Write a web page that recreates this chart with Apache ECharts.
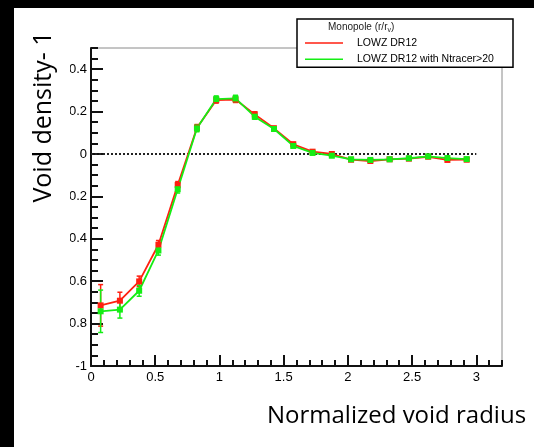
<!DOCTYPE html>
<html>
<head>
<meta charset="utf-8">
<script src="https://cdn.jsdelivr.net/npm/echarts@6/dist/echarts.min.js"></script>
<style>
  html, body { margin: 0; padding: 0; background: #000; }
  #chart { width: 534px; height: 447px; }
</style>
</head>
<body>
<div id="chart"></div>
<script>
// Bin centres of the normalized void radius r/r_v
const radius = [0.075, 0.225, 0.375, 0.525, 0.675, 0.825, 0.975, 1.125, 1.275, 1.425,
                1.575, 1.725, 1.875, 2.025, 2.175, 2.325, 2.475, 2.625, 2.775, 2.925];

// Monopole density contrast, LOWZ DR12 (all voids)
const lowz = [-0.714, -0.692, -0.601, -0.428, -0.146, 0.124, 0.254, 0.257, 0.187, 0.121,
              0.046, 0.011, 0.000, -0.027, -0.033, -0.025, -0.022, -0.013, -0.028, -0.027];
const lowzErr = [0.098, 0.040, 0.025, 0.020, 0.016, 0.015, 0.014, 0.014, 0.012, 0.010,
                 0.009, 0.008, 0.008, 0.007, 0.007, 0.007, 0.007, 0.007, 0.007, 0.007];

// Monopole density contrast, LOWZ DR12 voids with Ntracer>20
const lowzN20 = [-0.742, -0.734, -0.645, -0.455, -0.166, 0.121, 0.259, 0.262, 0.176, 0.118,
                 0.038, 0.005, -0.008, -0.025, -0.028, -0.025, -0.020, -0.011, -0.019, -0.024];
const lowzN20Err = [0.100, 0.040, 0.026, 0.022, 0.018, 0.016, 0.015, 0.015, 0.012, 0.010,
                    0.009, 0.008, 0.008, 0.007, 0.007, 0.007, 0.007, 0.007, 0.007, 0.007];

// Axis tick values
const xTicks = [0, 0.5, 1, 1.5, 2, 2.5, 3];
const yTicks = [-1, -0.8, -0.6, -0.4, -0.2, 0, 0.2, 0.4];

// Dotted reference line at zero density contrast
const zeroLine = [[0, 0], [3, 0]];

const RED = '#ff1f10';
const GREEN = '#14ee14';
const AXIS = '#111';

function errorBars(name, ys, errs, color) {
  return {
    type: 'custom',
    name: name,
    silent: true,
    data: radius.map((x, i) => [x, ys[i] - errs[i], ys[i] + errs[i]]),
    renderItem(params, api) {
      const lo = api.coord([api.value(0), api.value(1)]);
      const hi = api.coord([api.value(0), api.value(2)]);
      const cap = 2.5;
      const style = { stroke: color, lineWidth: 1.5 };
      return {
        type: 'group',
        children: [
          { type: 'line', shape: { x1: lo[0], y1: lo[1], x2: hi[0], y2: hi[1] }, style },
          { type: 'line', shape: { x1: lo[0] - cap, y1: lo[1], x2: lo[0] + cap, y2: lo[1] }, style },
          { type: 'line', shape: { x1: hi[0] - cap, y1: hi[1], x2: hi[0] + cap, y2: hi[1] }, style }
        ]
      };
    }
  };
}

function profile(name, ys, color) {
  return {
    type: 'line',
    name: name,
    data: radius.map((x, i) => [x, ys[i]]),
    color: color,
    symbol: 'rect',
    symbolSize: 6,
    itemStyle: { color: color, borderWidth: 0 },
    lineStyle: { color: color, width: 1.8 },
    emphasis: { disabled: true }
  };
}

const tickFont = { fontFamily: 'Liberation Sans, Arial, sans-serif', fontSize: 13, color: '#000' };
const fmt = v => String(Math.round(v * 100) / 100);

const chart = echarts.init(document.getElementById('chart'), null, { renderer: 'canvas' });
chart.setOption({
  animation: false,
  backgroundColor: '#000',
  grid: {
    left: 91, right: 32, top: 48, bottom: 81,
    show: true, borderColor: '#8a8a8a', borderWidth: 1, backgroundColor: 'transparent'
  },
  xAxis: [
    {
      type: 'value', min: 0, max: 3.2, position: 'bottom',
      axisLine: { show: true, onZero: false, lineStyle: { color: AXIS, width: 2 } },
      axisTick: { show: true, inside: true, length: 11, customValues: xTicks, lineStyle: { color: AXIS, width: 2 } },
      axisLabel: Object.assign({ customValues: xTicks, formatter: fmt, margin: 5 }, tickFont),
      splitLine: { show: false }
    },
    {
      type: 'value', min: 0, max: 3.2, interval: 0.1, position: 'bottom',
      axisLine: { show: false, onZero: false },
      axisTick: { show: true, inside: true, length: 6, lineStyle: { color: AXIS, width: 2 } },
      axisLabel: { show: false },
      splitLine: { show: false }
    }
  ],
  yAxis: [
    {
      type: 'value', min: -1, max: 0.5, position: 'left',
      axisLine: { show: true, onZero: false, lineStyle: { color: AXIS, width: 2 } },
      axisTick: { show: true, inside: true, length: 12, customValues: yTicks, lineStyle: { color: AXIS, width: 2 } },
      axisLabel: Object.assign({ customValues: yTicks, formatter: fmt, margin: 4 }, tickFont),
      splitLine: { show: false }
    },
    {
      type: 'value', min: -1, max: 0.5, interval: 0.05, position: 'left',
      axisLine: { show: false, onZero: false },
      axisTick: { show: true, inside: true, length: 7, lineStyle: { color: AXIS, width: 2 } },
      axisLabel: { show: false },
      splitLine: { show: false }
    }
  ],
  legend: {
    left: 297, top: 19, orient: 'vertical',
    data: ['LOWZ DR12', 'LOWZ DR12 with Ntracer>20'],
    icon: 'rect', itemWidth: 38, itemHeight: 1.5, itemGap: 4.3,
    padding: [18, 0, 2, 8],
    backgroundColor: '#fff', borderColor: '#000', borderWidth: 1.5, borderRadius: 0,
    selectedMode: false,
    textStyle: {
      fontFamily: 'Liberation Sans, Arial, sans-serif', fontSize: 10.5, color: '#000',
      lineHeight: 12, padding: [0, 0, 0, 9], width: 156
    }
  },
  graphic: [
    // white page area
    { type: 'rect', z: -10, silent: true, shape: { x: 14, y: 8, width: 520, height: 439 }, style: { fill: '#fff' } },
    // margin strip left of the plot pane
    { type: 'rect', z: 50, silent: true, shape: { x: 14, y: 8, width: 56, height: 439 }, style: { fill: '#fff' } },
    {
      type: 'text', z: 60, silent: true, x: 44, y: 117, rotation: Math.PI / 2,
      style: {
        text: 'Void density- 1', fill: '#000',
        font: '25px "Open Sans", sans-serif', textAlign: 'center', textVerticalAlign: 'middle'
      }
    },
    {
      type: 'text', z: 60, silent: true, x: 267, y: 416,
      style: {
        text: 'Normalized void radius', fill: '#000',
        font: '24px "Open Sans", sans-serif', textAlign: 'left', textVerticalAlign: 'middle'
      }
    },
    {
      type: 'text', z: 60, silent: true, x: 328, y: 27,
      style: {
        text: 'Monopole (r/r{s|v})', fill: '#222',
        font: '10px "Liberation Sans", Arial, sans-serif', textVerticalAlign: 'middle',
        rich: { s: { fontSize: 7, padding: [6, 0, 0, 0], fill: '#222', fontFamily: 'Liberation Sans' } }
      }
    }
  ],
  series: [
    {
      type: 'line', name: 'zero', data: zeroLine, symbol: 'none', silent: true,
      lineStyle: { color: '#222', width: 2, type: [2, 2] }
    },
    errorBars('LOWZ DR12 errors', lowz, lowzErr, RED),
    profile('LOWZ DR12', lowz, RED),
    errorBars('LOWZ DR12 with Ntracer>20 errors', lowzN20, lowzN20Err, GREEN),
    profile('LOWZ DR12 with Ntracer>20', lowzN20, GREEN)
  ]
});
</script>
</body>
</html>
